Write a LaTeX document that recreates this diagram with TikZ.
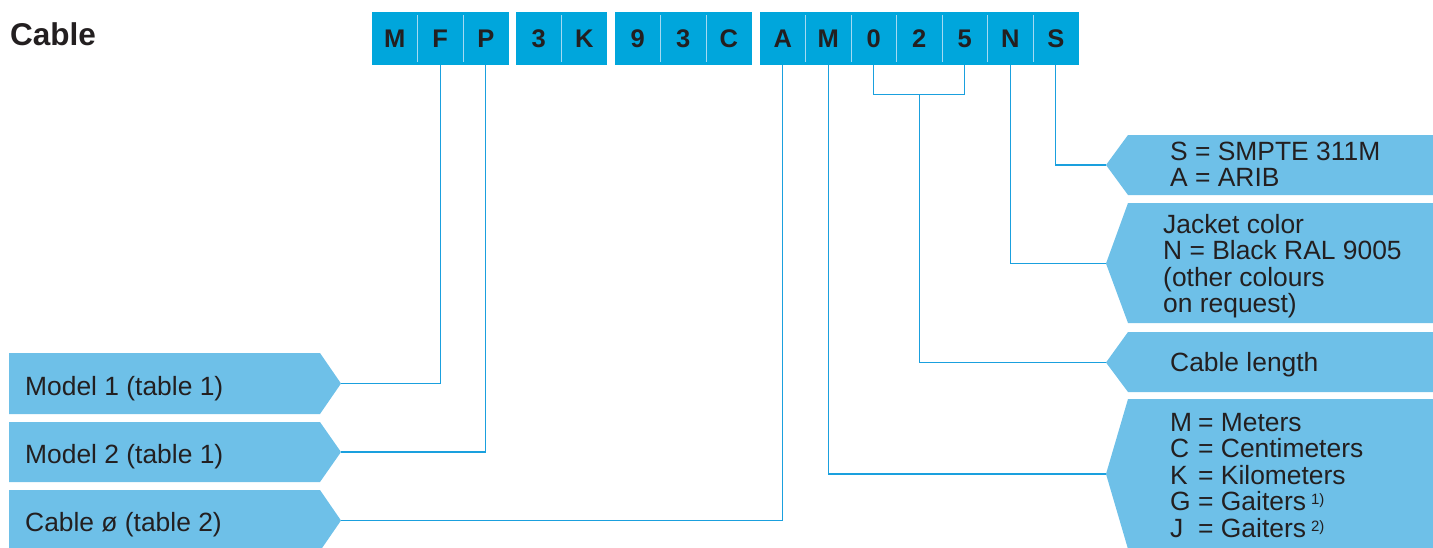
\documentclass[tikz,border=0pt]{standalone}
\usepackage{fontspec}
\setmainfont{Liberation Sans}
\usetikzlibrary{calc}
\definecolor{boxdark}{RGB}{0,166,220}
\definecolor{boxlight}{RGB}{110,192,232}
\definecolor{linec}{RGB}{26,160,222}
\definecolor{divc}{RGB}{165,218,242}
\definecolor{txt}{RGB}{35,31,32}
\newcommand{\supr}[1]{\hspace{5pt}\raisebox{6pt}{\fontsize{15}{15}\selectfont #1}}
\begin{document}
\begin{tikzpicture}[x=1pt,y=-1pt,
  cell/.style={fill=boxdark, minimum width=45.5pt, minimum height=52.7pt, inner sep=0pt, text=txt, font=\fontsize{25.5}{25.5}\selectfont\bfseries},
  lbl/.style={fill=boxlight},
  conn/.style={draw=linec, line width=1.1pt},
  divider/.style={draw=divc, line width=0.9pt},
  ltext/.style={inner sep=0pt, text=txt, font=\fontsize{26.4}{26.5}\selectfont, align=left}]
\useasboundingbox (0,0) rectangle (1433,547);

% title
\node[inner sep=0pt, anchor=base west, font=\fontsize{31.5}{31.5}\selectfont\bfseries, text=txt] (title) at (10,45) {Cable};

% code cells
\node[cell] (c1) at (394.75,38.35) {M};
\node[cell] (c2) at (440.25,38.35) {F};
\node[cell] (c3) at (485.75,38.35) {P};
\node[cell] (c4) at (538.75,38.35) {3};
\node[cell] (c5) at (584.25,38.35) {K};
\node[cell] (c6) at (637.75,38.35) {9};
\node[cell] (c7) at (683.25,38.35) {3};
\node[cell] (c8) at (728.75,38.35) {C};
\node[cell] (c9) at (782.75,38.35) {A};
\node[cell] (c10) at (828.25,38.35) {M};
\node[cell] (c11) at (873.75,38.35) {0};
\node[cell] (c12) at (919.25,38.35) {2};
\node[cell] (c13) at (964.75,38.35) {5};
\node[cell] (c14) at (1010.25,38.35) {N};
\node[cell] (c15) at (1055.75,38.35) {S};

% dividers
\foreach \c in {c1,c2,c4,c6,c7,c9,c10,c11,c12,c13,c14}{
  \draw[divider] ($(\c.north east)+(0,3)$) -- ($(\c.south east)+(0,-3)$);
}

% left labels
\fill[lbl] (9,353) -- (320,353) -- (341,383.5) -- (320,414) -- (9,414) -- cycle;
\coordinate (m1tip) at (341,383.5);
\fill[lbl] (9,422) -- (320,422) -- (341,452) -- (320,482) -- (9,482) -- cycle;
\coordinate (m2tip) at (341,452);
\fill[lbl] (9,490) -- (320,490) -- (341,520.5) -- (320,551) -- (9,551) -- cycle;
\coordinate (cdtip) at (341,520.5);

\node[ltext, anchor=base west] (tm1) at (25,395) {Model 1 (table 1)};
\node[ltext, anchor=base west] (tm2) at (25,463) {Model 2 (table 1)};
\node[ltext, anchor=base west] (tcd) at (25,531) {Cable ø (table 2)};

% right labels
\fill[lbl] (1128,135) -- (1433,135) -- (1433,195) -- (1128,195) -- (1106,165) -- cycle;
\coordinate (stip) at (1106,165);
\fill[lbl] (1128,203) -- (1433,203) -- (1433,323) -- (1128,323) -- (1106,263.5) -- cycle;
\coordinate (jtip) at (1106,263.5);
\fill[lbl] (1128,332) -- (1433,332) -- (1433,392) -- (1128,392) -- (1106,362.5) -- cycle;
\coordinate (ltip) at (1106,362.5);
\fill[lbl] (1128,399) -- (1433,399) -- (1433,549) -- (1128,549) -- (1106,474) -- cycle;
\coordinate (utip) at (1106,474);

\node[ltext, anchor=north west] (ts) at (1170,139) {\rule{0pt}{21pt}S = SMPTE 311M\\A = ARIB};
\node[ltext, anchor=north west] (tj) at (1163,212) {\rule{0pt}{21pt}Jacket color\\N = Black RAL 9005\\(other colours\\on request)};
\node[ltext, anchor=base west] (tl) at (1170,371) {Cable length};
\node[ltext, anchor=north west] (tu) at (1170,410) {\rule{0pt}{21pt}\makebox[28pt][l]{M}= Meters\\
\makebox[28pt][l]{C}= Centimeters\\
\makebox[28pt][l]{K}= Kilometers\\
\makebox[28pt][l]{G}= Gaiters\supr{1)}\\
\makebox[28pt][l]{J}= Gaiters\supr{2)}};

% connectors
\draw[conn] (m1tip) -| (c2.south);
\draw[conn] (m2tip) -| (c3.south);
\draw[conn] (cdtip) -| (c9.south);
\draw[conn] (utip) -| (c10.south);
\coordinate (brk) at ($(c12.south)+(0,30)$);
\draw[conn] (c11.south) |- (brk) -| (c13.south);
\draw[conn] (ltip) -| (brk);
\draw[conn] (jtip) -| (c14.south);
\draw[conn] (stip) -| (c15.south);
\end{tikzpicture}
\end{document}
